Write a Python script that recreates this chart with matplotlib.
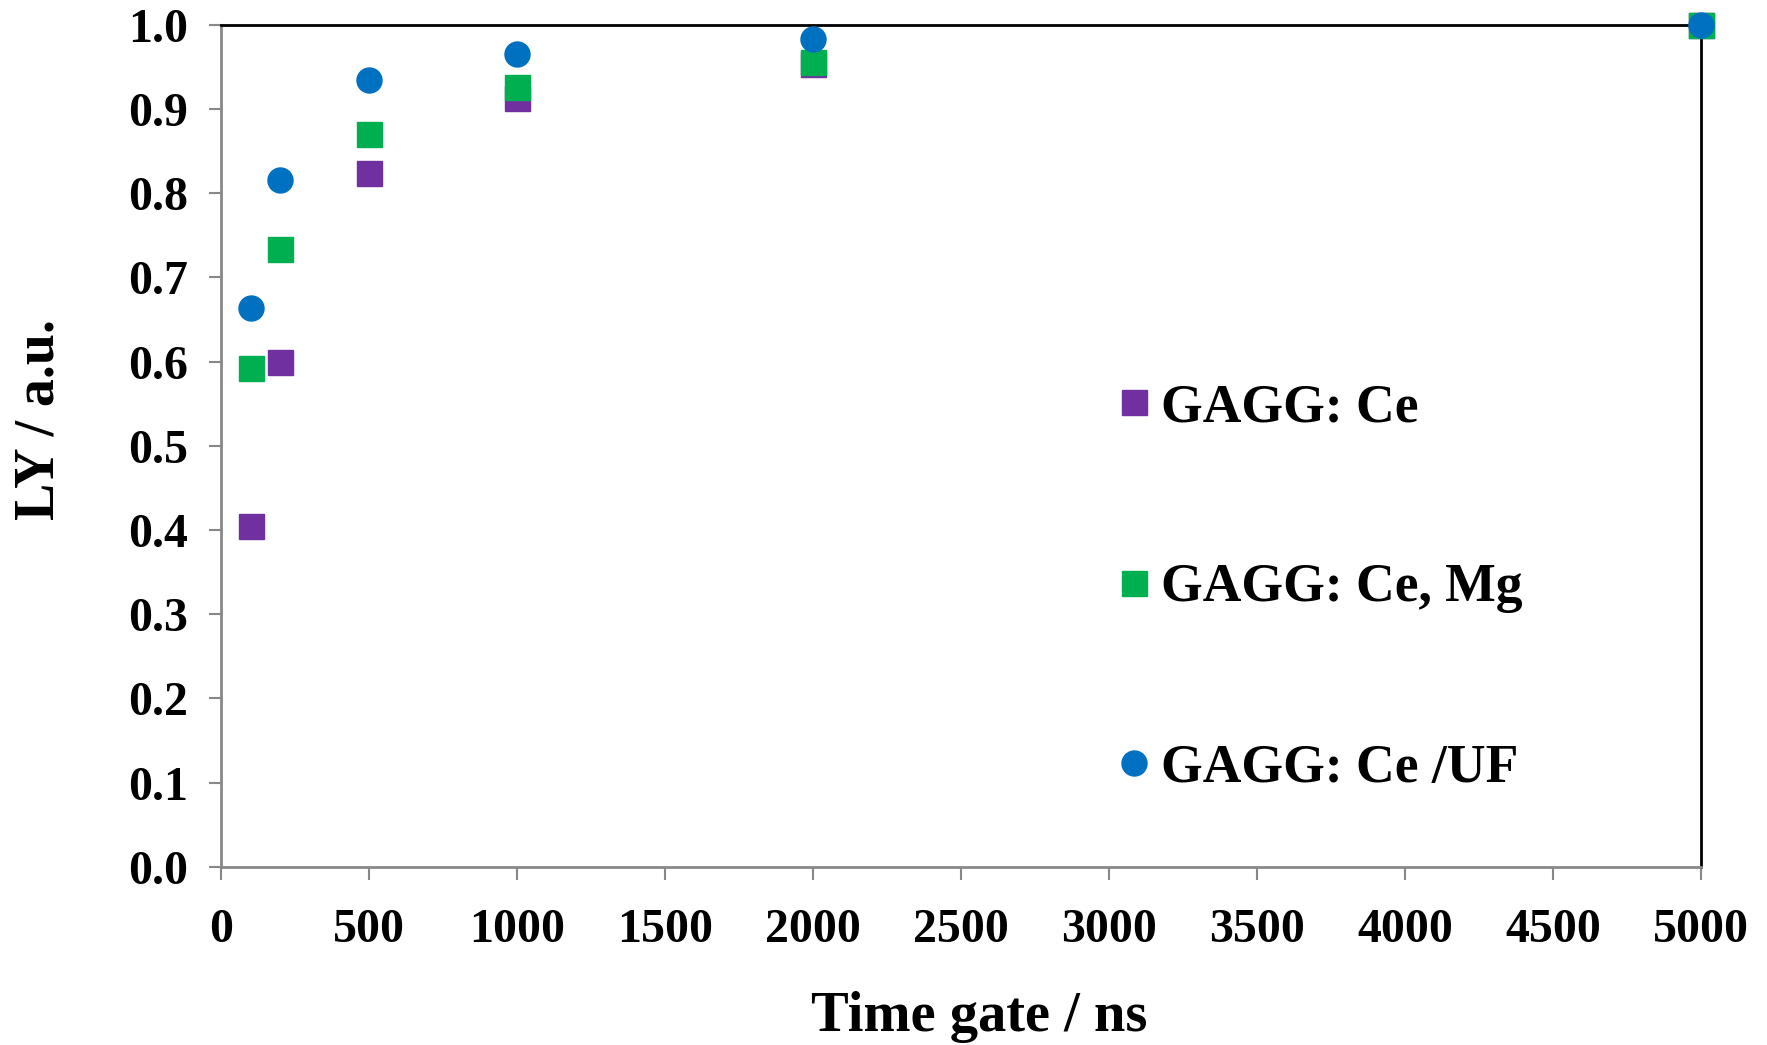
import matplotlib
matplotlib.use("Agg")
import matplotlib.pyplot as plt

# Light yield vs. integration time gate, normalised to the 5000 ns value
time_gate = [100, 200, 500, 1000, 2000, 5000]
ly_ce = [0.405, 0.600, 0.824, 0.913, 0.954, 1.000]
ly_ce_mg = [0.592, 0.734, 0.870, 0.926, 0.956, 1.000]
ly_ce_uf = [0.664, 0.816, 0.935, 0.965, 0.983, 1.000]

labels = ["GAGG: Ce", "GAGG: Ce, Mg", "GAGG: Ce /UF"]
x_ticks = [0, 500, 1000, 1500, 2000, 2500, 3000, 3500, 4000, 4500, 5000]
y_ticks = [0.0, 0.1, 0.2, 0.3, 0.4, 0.5, 0.6, 0.7, 0.8, 0.9, 1.0]

plt.rcParams['font.family'] = ['Liberation Serif', 'DejaVu Serif']
plt.rcParams['font.weight'] = 'bold'

fig = plt.figure(figsize=(17.67, 10.45), dpi=100)
ax = fig.add_axes([0.1251, 0.1705, 0.8376, 0.8058])

ax.plot(time_gate, ly_ce, linestyle='none', marker='s', markersize=18,
        color='#7030A0', label=labels[0], clip_on=False, zorder=3)
ax.plot(time_gate, ly_ce_mg, linestyle='none', marker='s', markersize=18,
        color='#00B050', label=labels[1], clip_on=False, zorder=4)
ax.plot(time_gate, ly_ce_uf, linestyle='none', marker='o', markersize=18,
        color='#0070C0', label=labels[2], clip_on=False, zorder=5)

ax.set_xlim(0, 5000)
ax.set_ylim(0, 1.0)
ax.set_xticks(x_ticks)
ax.set_yticks(y_ticks)
ax.set_xticklabels([str(t) for t in x_ticks])
ax.set_yticklabels([f"{t:.1f}" for t in y_ticks])

for side in ['left', 'bottom']:
    ax.spines[side].set_color('#888888')
    ax.spines[side].set_linewidth(2)
for side in ['top', 'right']:
    ax.spines[side].set_color('#000000')
    ax.spines[side].set_linewidth(2)

ax.tick_params(axis='both', direction='out', length=9, width=1.5,
               color='#888888', labelsize=34.5)
ax.tick_params(axis='x', pad=21)
ax.tick_params(axis='y', pad=14.5)

ax.set_xlabel('Time gate / ns', fontsize=40.7, fontweight='bold',
              labelpad=28, x=0.5125)
ax.set_ylabel('LY / a.u.', fontsize=40.2, fontweight='bold',
              labelpad=45, y=0.531)

ax.legend(loc='center left', bbox_to_anchor=(1118.4 / 1767, 1 - 588.5 / 1045),
          bbox_transform=fig.transFigure, frameon=False, numpoints=1,
          fontsize=38.6, handlelength=0.6, handletextpad=0.2,
          labelspacing=2.43, borderpad=0, borderaxespad=0)

fig.savefig('out.png', dpi=100)
